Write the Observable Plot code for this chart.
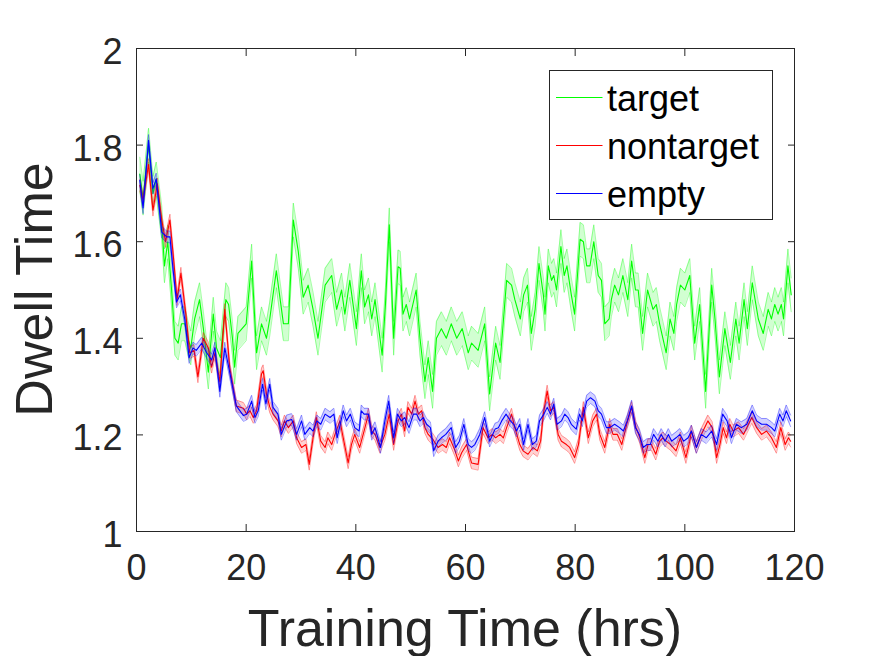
<!DOCTYPE html>
<html><head><meta charset="utf-8">
<script src="https://cdn.jsdelivr.net/npm/d3@7"></script>
<script src="https://cdn.jsdelivr.net/npm/@observablehq/plot@0.6"></script>
<style>body{margin:0;background:#fff;} svg{display:block;}</style>
</head><body><div id="chart"></div>
<script>
// ---- data (hours, mean dwell time) ----
const targetHours = [0.6,1.2,2.2,3.0,3.6,4.6,5.1,5.7,6.4,7.0,7.6,8.2,8.8,9.4,9.9,10.6,11.5,12.2,13.1,14.0,14.6,15.3,16.3,16.8,17.5,17.9,18.5,20.0,21.0,21.9,22.8,23.7,24.3,25.5,26.8,27.7,28.6,29.5,30.4,31.3,32.2,33.1,34.4,35.6,36.5,37.4,38.0,38.9,40.1,41.0,41.6,42.3,42.9,43.5,44.8,45.4,46.1,46.9,47.7,48.1,48.6,49.2,49.8,51.0,51.7,52.6,53.2,54.0,54.7,55.6,56.5,57.4,58.4,59.4,60.5,61.1,62.3,63.5,64.4,65.5,66.3,67.5,68.4,69.0,70.0,70.6,71.3,72.0,72.7,73.4,74.2,74.5,75.1,75.7,76.1,76.6,77.4,78.0,78.5,79.3,79.9,80.9,81.5,82.1,82.7,83.4,84.2,84.8,85.4,86.2,86.6,87.2,87.9,88.7,89.6,90.3,91.0,91.5,92.3,93.2,94.2,94.8,95.4,96.0,96.6,97.3,98.0,98.5,99.2,100.0,100.9,101.8,102.7,103.8,104.9,105.5,106.3,107.3,108.3,109.3,109.9,110.8,111.4,112.3,113.4,114.3,115.2,115.8,116.4,117.0,117.6,118.0,118.8,119.4];
const targetDwell = [1.74,1.69,1.80,1.70,1.73,1.64,1.55,1.60,1.50,1.40,1.39,1.43,1.43,1.40,1.38,1.44,1.48,1.42,1.33,1.45,1.38,1.36,1.48,1.47,1.40,1.34,1.41,1.43,1.56,1.37,1.43,1.40,1.44,1.54,1.43,1.43,1.645,1.58,1.485,1.51,1.46,1.40,1.51,1.53,1.46,1.50,1.45,1.52,1.42,1.54,1.465,1.49,1.44,1.48,1.365,1.47,1.635,1.40,1.548,1.545,1.45,1.47,1.44,1.50,1.40,1.31,1.36,1.29,1.40,1.42,1.40,1.43,1.40,1.42,1.37,1.39,1.375,1.43,1.285,1.39,1.35,1.52,1.51,1.48,1.44,1.49,1.51,1.41,1.46,1.555,1.49,1.45,1.55,1.52,1.53,1.50,1.59,1.53,1.55,1.49,1.45,1.605,1.60,1.55,1.55,1.60,1.53,1.52,1.43,1.44,1.48,1.51,1.49,1.53,1.48,1.56,1.50,1.50,1.41,1.50,1.46,1.47,1.43,1.40,1.37,1.44,1.41,1.47,1.51,1.50,1.53,1.39,1.47,1.29,1.51,1.44,1.32,1.42,1.35,1.44,1.39,1.48,1.42,1.515,1.44,1.41,1.46,1.44,1.47,1.45,1.47,1.44,1.55,1.49];

const nontargetHours = [0.6,1.2,2.2,3.0,3.8,4.6,5.3,6.1,6.8,7.4,8.1,9.0,9.7,10.5,11.2,12.2,13.1,13.7,14.3,15.2,16.1,17.0,18.2,19.5,20.1,20.7,21.3,21.9,22.8,23.1,23.7,24.3,24.9,25.8,26.4,27.0,27.7,28.6,29.2,30.1,30.9,31.5,32.2,32.8,33.6,34.4,34.9,35.6,36.2,37.1,37.7,38.6,39.2,39.8,40.7,41.5,42.3,42.9,43.5,44.4,45.3,46.1,46.9,47.7,48.3,48.9,49.5,50.2,50.8,51.4,52.0,52.6,53.2,54.1,55.0,55.8,56.5,57.1,58.1,58.7,59.3,60.2,61.1,62.3,63.2,64.1,64.9,65.5,66.3,66.9,67.5,68.4,69.0,69.9,70.5,71.4,72.3,73.1,73.7,74.2,74.9,75.5,76.1,76.9,77.5,78.4,79.0,79.9,80.6,81.5,82.4,83.2,83.9,84.5,85.4,86.3,86.9,87.7,88.5,89.4,90.3,91.1,91.8,92.7,93.3,93.9,94.7,95.4,96.0,96.6,97.4,98.4,99.2,100.2,100.9,101.2,102.1,103.0,103.6,104.2,105.0,105.8,106.4,107.0,107.6,108.2,108.8,109.8,110.7,111.3,112.2,113.1,114.0,114.9,115.8,116.7,117.5,118.3,118.9,119.3];
const nontargetDwell = [1.717,1.686,1.76,1.665,1.72,1.645,1.60,1.645,1.56,1.48,1.535,1.45,1.37,1.375,1.32,1.40,1.38,1.34,1.37,1.31,1.46,1.34,1.26,1.255,1.243,1.25,1.236,1.25,1.326,1.333,1.285,1.258,1.243,1.229,1.208,1.229,1.215,1.229,1.194,1.174,1.18,1.139,1.194,1.236,1.187,1.174,1.194,1.18,1.201,1.229,1.194,1.142,1.18,1.201,1.174,1.208,1.243,1.208,1.201,1.174,1.201,1.243,1.18,1.229,1.243,1.208,1.257,1.243,1.27,1.243,1.25,1.215,1.201,1.19,1.174,1.18,1.174,1.194,1.167,1.146,1.163,1.18,1.142,1.139,1.215,1.194,1.201,1.194,1.201,1.194,1.215,1.243,1.215,1.18,1.167,1.16,1.174,1.167,1.187,1.243,1.291,1.25,1.257,1.201,1.187,1.18,1.174,1.153,1.18,1.257,1.194,1.229,1.243,1.201,1.174,1.222,1.201,1.201,1.18,1.222,1.257,1.215,1.194,1.153,1.18,1.18,1.16,1.187,1.194,1.187,1.18,1.167,1.194,1.153,1.187,1.208,1.174,1.201,1.215,1.229,1.215,1.153,1.18,1.215,1.194,1.222,1.208,1.215,1.201,1.215,1.236,1.215,1.201,1.208,1.194,1.174,1.215,1.18,1.194,1.187];

const emptyHours = [0.6,1.2,2.2,3.0,3.6,4.6,5.5,6.1,6.6,7.3,8.0,8.8,9.6,10.3,10.9,11.9,12.8,13.7,14.3,15.2,16.1,17.0,18.2,19.5,20.1,21.0,21.6,22.2,23.0,23.6,24.3,24.9,25.8,26.4,27.4,28.3,29.2,30.1,30.7,31.6,32.2,32.9,33.6,34.4,35.3,36.0,36.6,37.7,38.3,39.0,39.8,40.6,41.0,41.5,42.3,42.9,43.5,44.5,45.3,46.0,46.9,47.6,48.3,48.9,49.7,50.5,51.1,51.7,52.3,52.9,53.6,54.2,55.0,55.6,56.4,57.4,58.2,58.9,59.7,60.5,61.1,61.7,62.6,63.5,64.4,65.4,66.0,66.6,67.4,68.2,68.8,69.3,69.9,70.6,71.4,72.2,72.9,73.5,74.3,74.9,75.5,76.1,76.7,77.5,78.1,78.7,79.3,80.2,80.8,81.3,82.1,82.8,83.6,84.2,84.8,85.7,86.3,87.2,88.1,88.8,89.5,90.3,91.0,91.7,92.4,93.1,93.7,94.3,95.1,95.7,96.4,97.0,97.6,98.4,99.1,99.8,100.6,101.2,102.1,103.0,103.9,104.9,105.8,106.9,107.7,108.5,109.4,110.3,111.3,112.3,113.1,114.0,114.9,115.8,116.4,117.3,117.9,118.5,119.3];
const emptyDwell = [1.727,1.67,1.81,1.71,1.73,1.62,1.61,1.61,1.55,1.475,1.49,1.44,1.36,1.38,1.375,1.39,1.37,1.355,1.38,1.29,1.38,1.33,1.26,1.24,1.243,1.27,1.236,1.25,1.305,1.264,1.305,1.257,1.243,1.201,1.229,1.232,1.201,1.229,1.201,1.215,1.208,1.229,1.222,1.243,1.236,1.243,1.194,1.25,1.229,1.243,1.215,1.208,1.25,1.243,1.243,1.201,1.215,1.174,1.229,1.27,1.194,1.243,1.229,1.236,1.215,1.243,1.243,1.229,1.236,1.222,1.215,1.167,1.187,1.194,1.201,1.215,1.174,1.187,1.222,1.18,1.174,1.18,1.201,1.236,1.187,1.212,1.215,1.229,1.243,1.229,1.222,1.208,1.222,1.18,1.222,1.18,1.187,1.229,1.243,1.257,1.243,1.264,1.222,1.229,1.243,1.236,1.222,1.212,1.243,1.229,1.27,1.277,1.27,1.25,1.243,1.215,1.215,1.222,1.215,1.208,1.229,1.26,1.215,1.201,1.174,1.18,1.18,1.201,1.187,1.201,1.187,1.201,1.187,1.194,1.201,1.187,1.194,1.208,1.174,1.201,1.194,1.208,1.18,1.243,1.229,1.194,1.222,1.215,1.222,1.25,1.229,1.222,1.222,1.215,1.208,1.243,1.229,1.25,1.229];

// shaded error half-widths per series
const seriesNames = ["target", "nontarget", "empty"];
const seriesColors = ["#00ff00", "#ff0000", "#0000ff"];
const seriesSem = [0.035, 0.012, 0.012];
const xTicks = [0, 20, 40, 60, 80, 100, 120];
const yTicks = [1, 1.2, 1.4, 1.6, 1.8, 2];

const seriesHours = [targetHours, nontargetHours, emptyHours];
const seriesDwell = [targetDwell, nontargetDwell, emptyDwell];

const tables = seriesNames.map((name, s) =>
  seriesHours[s].map((t, i) => ({
    series: name, t, v: seriesDwell[s][i],
    lo: seriesDwell[s][i] - seriesSem[s], hi: seriesDwell[s][i] + seriesSem[s]
  }))
);

const ink = "#262626";
const marks = [];
tables.forEach((d, s) => {
  const c = seriesColors[s];
  marks.push(Plot.areaY(d, {x: "t", y1: "lo", y2: "hi", fill: c, fillOpacity: 0.18}));
  marks.push(Plot.line(d, {x: "t", y: "lo", stroke: c, strokeOpacity: 0.35, strokeWidth: 1}));
  marks.push(Plot.line(d, {x: "t", y: "hi", stroke: c, strokeOpacity: 0.35, strokeWidth: 1}));
  marks.push(Plot.line(d, {x: "t", y: "v", stroke: c, strokeWidth: 1.1}));
});

const chart = Plot.plot({
  width: 875, height: 656,
  marginLeft: 136, marginRight: 81, marginTop: 48, marginBottom: 125,
  style: {fontFamily: "'Liberation Sans', Arial, sans-serif", background: "#fff"},
  x: {domain: [0, 120]},
  y: {domain: [1, 2]},
  marks: [
    ...marks,
    Plot.axisX(xTicks, {anchor: "bottom", tickSize: 0, tickPadding: 23, fontSize: 36, color: ink, label: null}),
    // inward ticks: outward ticks shifted back across the frame by their length
    Plot.axisX(xTicks, {anchor: "bottom", tickSize: 7, dy: -7, fill: "none", stroke: ink, label: null}),
    Plot.axisX(xTicks, {anchor: "top", tickSize: 7, dy: 7, fill: "none", stroke: ink, label: null}),
    Plot.axisY(yTicks, {anchor: "left", tickSize: 0, tickPadding: 14, fontSize: 36, dy: 4, color: ink, label: null, tickFormat: d => String(d)}),
    Plot.axisY(yTicks, {anchor: "left", tickSize: 7, dx: 7, fill: "none", stroke: ink, label: null}),
    Plot.axisY(yTicks, {anchor: "right", tickSize: 7, dx: -7, fill: "none", stroke: ink, label: null}),
    Plot.frame({stroke: ink})
  ]
});
document.getElementById("chart").appendChild(chart);

// axis titles and legend, placed from the scales
const xs = chart.scale("x"), ys = chart.scale("y");
const plotLeft = xs.apply(0), plotRight = xs.apply(120), plotTop = ys.apply(2), plotBottom = ys.apply(1);
const svg = d3.select(chart);
const font = "'Liberation Sans', Arial, sans-serif";
svg.append("text")
  .attr("transform", `translate(52,${(plotTop + plotBottom) / 2}) rotate(-90)`)
  .attr("text-anchor", "middle").attr("font-size", 52).attr("font-family", font)
  .attr("fill", ink).text("Dwell Time");
svg.append("text")
  .attr("x", (plotLeft + plotRight) / 2).attr("y", plotBottom + 115)
  .attr("text-anchor", "middle").attr("font-size", 52).attr("font-family", font)
  .attr("fill", ink).text("Training Time (hrs)");

const lg = svg.append("g").attr("transform", `translate(${plotRight - 244.5},${plotTop + 22.5})`);
lg.append("rect").attr("width", 223).attr("height", 149)
  .attr("fill", "#fff").attr("stroke", ink).attr("stroke-width", 1);
seriesNames.forEach((name, s) => {
  const yy = 27 + 48 * s;
  lg.append("line").attr("x1", 6.5).attr("x2", 53).attr("y1", yy).attr("y2", yy)
    .attr("stroke", seriesColors[s]).attr("stroke-width", 1);
  lg.append("text").attr("x", 57.5).attr("y", yy).attr("dy", "0.38em")
    .attr("text-anchor", "start")
    .attr("font-size", 36).attr("font-family", font).attr("fill", "#000").text(name);
});
</script>
</body></html>
